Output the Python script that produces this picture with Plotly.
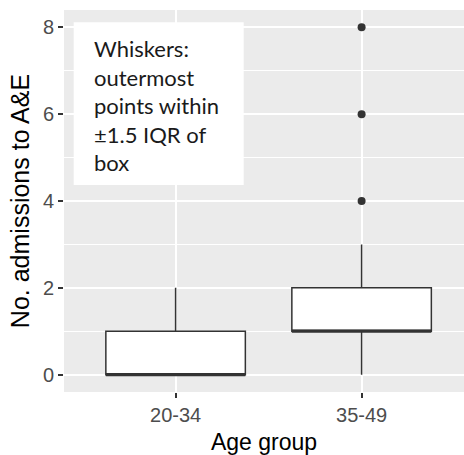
import plotly.graph_objects as go

# Age groups and per-group box statistics (A&E admissions)
groups = ["20-34", "35-49"]
group_pos = [1, 2]
q1 = [0, 1]
median = [0, 1]
q3 = [1, 2]
lower_whisker = [0, 0]
upper_whisker = [2, 3]

# Points beyond the whiskers
outlier_group = [2, 2, 2]
outlier_value = [4, 6, 8]

note_lines = ["Whiskers:", "outermost", "points within", "±1.5 IQR of", "box"]

box_width = 0.75
ink = "#333333"

fig = go.Figure()

fig.add_trace(go.Box(
    x=group_pos,
    q1=q1,
    median=median,
    q3=q3,
    lowerfence=lower_whisker,
    upperfence=upper_whisker,
    width=box_width,
    whiskerwidth=0,
    boxpoints=False,
    fillcolor="white",
    line=dict(color=ink, width=1.5),
    showlegend=False,
    hoverinfo="skip",
))

fig.add_trace(go.Scatter(
    x=outlier_group,
    y=outlier_value,
    mode="markers",
    marker=dict(color=ink, size=8),
    showlegend=False,
    hoverinfo="skip",
))

# Heavier median bars, as in ggplot2 boxplots
for xp, m in zip(group_pos, median):
    fig.add_shape(type="line", xref="x", yref="y",
                  x0=xp - box_width / 2, x1=xp + box_width / 2, y0=m, y1=m,
                  line=dict(color=ink, width=3), layer="above")

# Explanatory note panel
fig.add_shape(type="rect", xref="x", yref="y",
              x0=0.452, x1=1.366, y0=4.368, y1=8.115,
              fillcolor="white", line=dict(width=0), layer="above")

line_top = 7.516
line_step = 0.66
for i, txt in enumerate(note_lines):
    fig.add_annotation(
        x=0.548, y=line_top - i * line_step, xref="x", yref="y",
        text=txt, showarrow=False, xanchor="left", yanchor="middle",
        font=dict(family="Lato, Carlito, Calibri, sans-serif", size=22, color="#1a1a1a"),
    )

axis_font = dict(family="Liberation Sans, Arial, sans-serif", size=20, color="#4D4D4D")
x_title_font = dict(family="Liberation Sans, Arial, sans-serif", size=23, color="black")
y_title_font = dict(family="Liberation Sans, Arial, sans-serif", size=25, color="black")

fig.update_layout(
    width=464,
    height=455,
    margin=dict(l=64, r=0, t=10, b=63),
    paper_bgcolor="white",
    plot_bgcolor="#EBEBEB",
    xaxis=dict(
        range=[0.4, 0.4 + 400 / 186],
        tickvals=group_pos,
        ticktext=groups,
        ticks="outside", ticklen=5, tickwidth=1.5, tickcolor=ink,
        showgrid=True, gridcolor="white", gridwidth=2,
        zeroline=False, showline=False,
        tickfont=axis_font,
        title=dict(text="Age group", font=x_title_font, standoff=9),
    ),
    yaxis=dict(
        range=[-0.4, 8.4],
        tickvals=[0, 2, 4, 6, 8],
        ticks="outside", ticklen=5, tickwidth=1.5, tickcolor=ink,
        showgrid=True, gridcolor="white", gridwidth=2,
        minor=dict(dtick=1, tick0=0, showgrid=True, gridcolor="white", gridwidth=1, ticks=""),
        zeroline=False, showline=False,
        tickfont=axis_font,
        title=dict(text="No. admissions to A&E", font=y_title_font, standoff=6),
    ),
)

fig.write_html("out.html")
